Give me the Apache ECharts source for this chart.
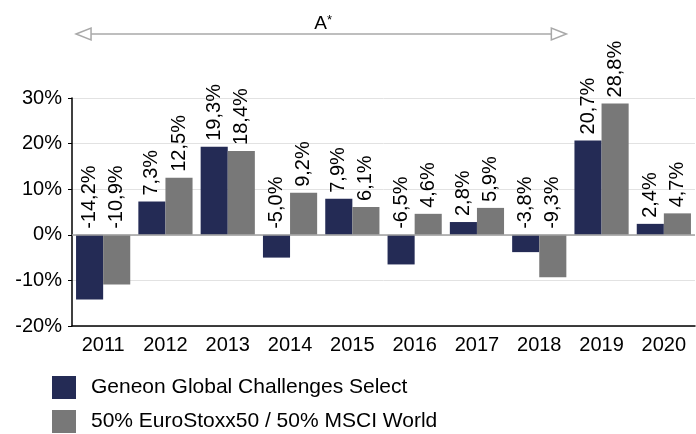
<!DOCTYPE html>
<html>
<head>
<meta charset="utf-8">
<script src="https://cdn.jsdelivr.net/npm/echarts@6/dist/echarts.min.js"></script>
<style>
  html, body { margin: 0; padding: 0; background: #fff; }
  #chart { width: 696px; height: 434px; }
</style>
</head>
<body>
<div id="chart"></div>
<script>
// Jahre und Wertentwicklung in %
const years = ['2011', '2012', '2013', '2014', '2015', '2016', '2017', '2018', '2019', '2020'];
const fundValues = [-14.2, 7.3, 19.3, -5.0, 7.9, -6.5, 2.8, -3.8, 20.7, 2.4];
const benchValues = [-10.9, 12.5, 18.4, 9.2, 6.1, 4.6, 5.9, -9.3, 28.8, 4.7];
const seriesNames = ['Geneon Global Challenges Select', '50% EuroStoxx50 / 50% MSCI World'];
const periodLabel = 'A';
const periodRange = [0, 7]; // 2011 - 2018

const FONT = 'Liberation Sans, Arial, sans-serif';
const barGapPct = 13;

function fmt(v) {
  return v.toFixed(1).replace('.', ',') + '%';
}

const labelStyle = {
  show: true,
  position: 'top',
  rotate: 90,
  align: 'left',
  verticalAlign: 'middle',
  distance: 6,
  fontFamily: FONT,
  fontSize: 20,
  color: '#000',
  formatter: p => fmt(p.value)
};

let chart = echarts.init(document.getElementById('chart'));

chart.setOption({
  animation: false,
  grid: { left: 72, right: 1, top: 98, bottom: 108 },
  legend: {
    orient: 'vertical',
    left: 52,
    top: 376,
    padding: 0,
    icon: 'rect',
    itemWidth: 24,
    itemHeight: 23,
    itemGap: 11,
    textStyle: { fontFamily: FONT, fontSize: 21, color: '#000', padding: [0, 0, 0, 10] },
    data: seriesNames
  },
  xAxis: {
    type: 'category',
    data: years,
    position: 'bottom',
    axisLine: { onZero: false, lineStyle: { color: '#000', width: 1.5 } },
    axisTick: { alignWithLabel: true, length: 5, lineStyle: { color: '#000' } },
    axisLabel: { fontFamily: FONT, fontSize: 20, color: '#000', margin: 9 }
  },
  yAxis: {
    type: 'value',
    min: -20,
    max: 30,
    interval: 10,
    axisLine: { show: true, lineStyle: { color: '#000', width: 1.5 } },
    axisTick: { show: true, length: 4, lineStyle: { color: '#000' } },
    axisLabel: { fontFamily: FONT, fontSize: 20, color: '#000', margin: 10, formatter: v => v + '%' },
    splitLine: { lineStyle: { color: '#e2e2e2' } }
  },
  series: [
    {
      name: seriesNames[0],
      type: 'bar',
      data: fundValues,
      barGap: 0,
      barCategoryGap: barGapPct + '%',
      itemStyle: { color: '#242b55' },
      label: labelStyle,
      markLine: {
        silent: true,
        symbol: 'none',
        label: { show: false },
        lineStyle: { color: '#a0a0a0', type: 'solid', width: 1.5 },
        data: [{ yAxis: 0 }]
      }
    },
    {
      name: seriesNames[1],
      type: 'bar',
      data: benchValues,
      itemStyle: { color: '#787878' },
      label: labelStyle
    }
  ]
});

// Zeitraum-Pfeil oben (A*)
function drawPeriodArrow() {
  const p0 = chart.convertToPixel({ xAxisIndex: 0 }, years[periodRange[0]]);
  const p1 = chart.convertToPixel({ xAxisIndex: 0 }, years[periodRange[1]]);
  const band = chart.convertToPixel({ xAxisIndex: 0 }, years[1]) - p0;
  const half = band * (1 - barGapPct / 100) / 2;
  const x0 = p0 - half, x1 = p1 + half;
  const y = 34;
  const stroke = { stroke: '#a8a8a8', lineWidth: 1.5, fill: '#fff' };
  chart.setOption({
    graphic: [
      { type: 'line', shape: { x1: x0 + 15, y1: y, x2: x1 - 15, y2: y }, style: stroke, z: 10 },
      { type: 'polygon', shape: { points: [[x0, y], [x0 + 15, y - 6], [x0 + 15, y + 6]] }, style: stroke, z: 10 },
      { type: 'polygon', shape: { points: [[x1, y], [x1 - 15, y - 6], [x1 - 15, y + 6]] }, style: stroke, z: 10 },
      {
        type: 'text',
        x: (x0 + x1) / 2 + 2,
        y: 24,
        style: {
          text: '{a|' + periodLabel + '}{s|*}',
          align: 'center',
          verticalAlign: 'middle',
          rich: {
            a: { fontFamily: FONT, fontSize: 19, fill: '#000' },
            s: { fontFamily: FONT, fontSize: 13, fill: '#000', verticalAlign: 'top', padding: [0, 0, 7, 0] }
          }
        }
      }
    ]
  });
}
drawPeriodArrow();
</script>
</body>
</html>
